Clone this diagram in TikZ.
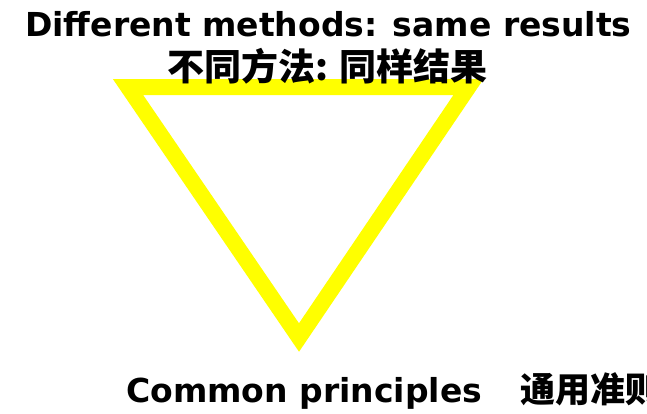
\documentclass[tikz,border=0pt]{standalone}
\usepackage{fontspec}
\setmainfont{DejaVu Sans}
\newfontfamily\cjk{Noto Sans CJK SC}
\usetikzlibrary{positioning}
\definecolor{signyellow}{RGB}{255,255,0}
\tikzset{
  label text/.style={anchor=base west,inner sep=0pt,text=black},
}
\begin{document}
\begin{tikzpicture}[x=1pt,y=-1pt]
\fill[white] (0,0) rectangle (647,413);
\useasboundingbox (0,0) rectangle (647,413);
%% Yellow triangle
\draw[signyellow,line width=16pt,miter limit=10] (128,87) -- (468.5,87) -- (299,337.5) -- cycle;
%% Top labels
\node[label text,font=\fontsize{33}{36}\selectfont\bfseries] (title) at (25,36) {Different methods: same results};
\node[label text,font=\fontsize{37}{40}\selectfont\cjk\bfseries] (titlezh) at (167,80) {不同方法: 同样结果};
%% Bottom label
\node[label text,font=\fontsize{33}{36}\selectfont\bfseries] (base) at (126,402) {Common principles\hspace{38pt}{\cjk\fontsize{35}{38}\selectfont 通用准则}};
\end{tikzpicture}
\end{document}
